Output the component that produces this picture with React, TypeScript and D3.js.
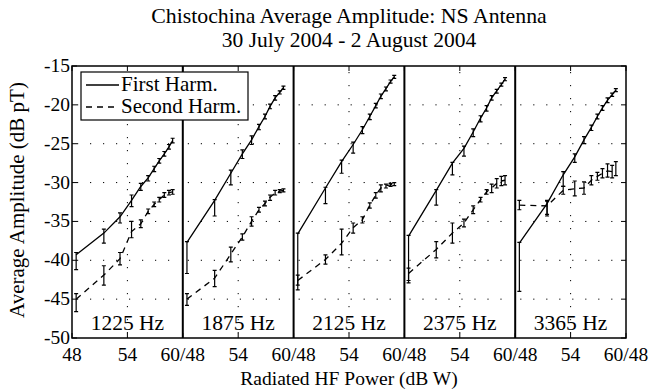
import React from "react";
import * as d3 from "d3";

// radiated HF power steps (dB W), shared by all panels
const POWER = [48.45, 51.45, 53.2, 54.45, 55.45, 56.25, 56.9, 57.45, 58.0, 58.5, 58.9];

// each point: [mean, error below, error above] in dB pT
const H1_1225 = [[-39.3, 1.9, 0.3], [-36.5, 1.3, 0.5], [-34.4, 0.8, 0.5], [-32.3, 0.8, 0.7], [-30.5, 0.5, 0.4], [-29.4, 0.4, 0.3], [-28.2, 0.4, 0.3], [-27.2, 0.3, 0.3], [-26.3, 0.3, 0.3], [-25.4, 0.3, 0.3], [-24.6, 0.3, 0.3]];
const H2_1225 = [[-45.0, 1.6, 0.7], [-41.9, 1.3, 1.2], [-39.8, 0.8, 0.8], [-36.3, 0.8, 1.3], [-35.3, 0.5, 0.5], [-33.7, 0.3, 0.3], [-32.8, 0.3, 0.3], [-32.2, 0.3, 0.3], [-31.6, 0.3, 0.3], [-31.3, 0.3, 0.3], [-31.2, 0.3, 0.3]];
const H1_1875 = [[-37.7, 4.0, 0.1], [-32.3, 2.0, 0.1], [-28.8, 1.5, 0.4], [-26.3, 0.6, 0.5], [-24.5, 0.6, 0.5], [-22.8, 0.4, 0.3], [-21.5, 0.3, 0.3], [-20.2, 0.3, 0.3], [-19.1, 0.3, 0.3], [-18.4, 0.2, 0.2], [-17.8, 0.2, 0.2]];
const H2_1875 = [[-45.0, 0.8, 0.7], [-42.3, 1.1, 1.0], [-39.2, 1.0, 0.9], [-37.0, 0.4, 0.4], [-35.0, 0.6, 0.6], [-33.5, 0.3, 0.3], [-32.7, 0.3, 0.3], [-31.9, 0.4, 0.3], [-31.3, 0.3, 0.3], [-31.1, 0.2, 0.2], [-31.0, 0.2, 0.2]];
const H1_2125 = [[-36.6, 6.6, 0.1], [-30.7, 2.0, 0.1], [-27.3, 1.5, 0.2], [-25.1, 1.1, 0.3], [-23.2, 0.5, 0.4], [-21.5, 0.4, 0.3], [-20.1, 0.3, 0.3], [-18.9, 0.3, 0.3], [-17.9, 0.3, 0.2], [-17.0, 0.2, 0.2], [-16.4, 0.2, 0.2]];
const H2_2125 = [[-42.6, 1.2, 0.7], [-39.9, 0.6, 0.6], [-37.8, 1.5, 1.8], [-35.8, 0.7, 0.6], [-34.8, 0.4, 0.4], [-32.9, 0.4, 0.3], [-31.6, 0.4, 0.3], [-30.7, 0.5, 0.4], [-30.4, 0.3, 0.2], [-30.3, 0.2, 0.2], [-30.2, 0.2, 0.2]];
const H1_2375 = [[-36.9, 6.0, 0.1], [-31.0, 1.9, 0.1], [-27.5, 1.5, 0.1], [-25.6, 1.0, 0.3], [-23.5, 0.6, 0.4], [-21.7, 0.5, 0.3], [-20.4, 0.4, 0.3], [-19.1, 0.3, 0.3], [-18.2, 0.3, 0.2], [-17.4, 0.2, 0.2], [-16.7, 0.2, 0.2]];
const H2_2375 = [[-41.7, 0.9, 0.7], [-38.6, 1.1, 1.0], [-36.5, 1.3, 1.3], [-35.2, 0.5, 0.5], [-33.5, 0.5, 0.5], [-32.2, 0.3, 0.3], [-31.2, 0.3, 0.3], [-30.7, 0.6, 0.5], [-30.1, 0.6, 0.6], [-29.8, 0.6, 0.6], [-29.7, 0.6, 0.6]];
const H1_3365 = [[-37.8, 6.2, 0.1], [-32.7, 1.6, 0.4], [-29.0, 1.5, 0.4], [-26.7, 0.7, 0.4], [-24.5, 0.5, 0.4], [-22.9, 0.4, 0.3], [-21.5, 0.3, 0.3], [-20.4, 0.3, 0.3], [-19.4, 0.3, 0.3], [-18.7, 0.2, 0.2], [-18.1, 0.2, 0.2]];
const H2_3365 = [[-32.9, 0.6, 0.6], [-33.0, 1.1, 0.6], [-31.0, 0.5, 0.5], [-30.8, 0.9, 1.0], [-30.7, 0.8, 0.8], [-29.7, 0.6, 0.6], [-29.2, 0.5, 0.5], [-28.8, 0.6, 0.6], [-28.5, 0.8, 0.9], [-28.6, 0.8, 0.8], [-28.4, 0.7, 1.1]];

const FREQS = ["1225 Hz", "1875 Hz", "2125 Hz", "2375 Hz", "3365 Hz"];
const FIRST = [H1_1225, H1_1875, H1_2125, H1_2375, H1_3365];
const SECOND = [H2_1225, H2_1875, H2_2125, H2_2375, H2_3365];
const Y_TICKS = [-15, -20, -25, -30, -35, -40, -45, -50];
const X_TICK_LABELS = ["48", "54", "60/48", "54", "60/48", "54", "60/48", "54", "60/48", "54", "60/48"];

const W = 661;
const H = 390;
const left = 72;
const right = 626;
const top = 66;
const bottom = 338;
const serif = { fontFamily: '"Liberation Serif"' };

export default function App() {
  const n = FREQS.length;
  const pw = (right - left) / n;
  const y = d3.scaleLinear().domain([-50, -15]).range([bottom, top]);
  // one continuous x axis: 48..108, each panel covers 12 dB
  const xAll = d3.scaleLinear().domain([48, 48 + 12 * n]).range([left, right]);
  const tickVals = d3.range(48, 48 + 12 * n + 1, 6);

  const line = (xs: d3.ScaleLinear<number, number>) =>
    d3
      .line<number[]>()
      .x((d, i) => xs(POWER[i]))
      .y((d) => y(d[0]));

  const errBars = (xs: d3.ScaleLinear<number, number>, data: number[][], key: string) =>
    data.map((d, i) => {
      const cx = xs(POWER[i]);
      const y0 = y(d[0] - d[1]);
      const y1 = y(d[0] + d[2]);
      return (
        <path
          key={key + i}
          d={`M${cx},${y0}V${y1}M${cx - 2},${y0}H${cx + 2}M${cx - 2},${y1}H${cx + 2}`}
          stroke="#000"
          strokeWidth={1.2}
          fill="none"
        />
      );
    });

  return (
    <svg width={W} height={H} style={{ position: "absolute", left: 0, top: 0, background: "#fff" }}>
      <rect width={W} height={H} fill="#fff" />
      <text x={(left + right) / 2} y={23} textAnchor="middle" fontSize={21.8} style={serif}>
        Chistochina Average Amplitude: NS Antenna
      </text>
      <text x={(left + right) / 2} y={47} textAnchor="middle" fontSize={21.5} style={serif}>
        30 July 2004 - 2 August 2004
      </text>

      {/* dotted grid */}
      {FREQS.map((f, p) => {
        const x0 = left + p * pw;
        const xs = d3.scaleLinear().domain([48, 60]).range([x0, x0 + pw]);
        return (
          <g key={"g" + p} stroke="#000" strokeWidth={1} strokeDasharray="1.2 11.8" fill="none">
            {Y_TICKS.slice(1, -1).map((t) => (
              <line key={t} x1={x0 + 5} x2={x0 + pw - 3} y1={y(t)} y2={y(t)} />
            ))}
            <line x1={xs(54)} x2={xs(54)} y1={top + 6} y2={bottom} />
          </g>
        );
      })}

      {/* data */}
      {FREQS.map((f, p) => {
        const x0 = left + p * pw;
        const xs = d3.scaleLinear().domain([48, 60]).range([x0, x0 + pw]);
        return (
          <g key={"d" + p}>
            <path d={line(xs)(FIRST[p]) || ""} stroke="#000" strokeWidth={1.3} fill="none" />
            <path d={line(xs)(SECOND[p]) || ""} stroke="#000" strokeWidth={1.3} strokeDasharray="6 5" fill="none" />
            {errBars(xs, FIRST[p], "a")}
            {errBars(xs, SECOND[p], "b")}
            <text x={x0 + pw / 2} y={330} textAnchor="middle" fontSize={21.5} style={serif}>
              {f}
            </text>
          </g>
        );
      })}

      {/* frame, panel separators, ticks */}
      <rect x={left} y={top} width={right - left} height={bottom - top} fill="none" stroke="#000" strokeWidth={1.5} />
      {FREQS.slice(1).map((f, p) => (
        <line key={"s" + p} x1={left + (p + 1) * pw} x2={left + (p + 1) * pw} y1={top} y2={bottom} stroke="#000" strokeWidth={2} />
      ))}
      {Y_TICKS.map((t) => (
        <g key={"yt" + t}>
          <line x1={left} x2={left + 5} y1={y(t)} y2={y(t)} stroke="#000" />
          <line x1={right} x2={right - 5} y1={y(t)} y2={y(t)} stroke="#000" />
          <text x={left - 2} y={y(t) + 6} textAnchor="end" fontSize={19.5} style={serif}>
            {t}
          </text>
        </g>
      ))}
      {tickVals.map((t, i) => (
        <g key={"xt" + i}>
          <line x1={xAll(t)} x2={xAll(t)} y1={bottom} y2={bottom - 5} stroke="#000" />
          <line x1={xAll(t)} x2={xAll(t)} y1={top} y2={top + 5} stroke="#000" />
          <text x={xAll(t)} y={361} textAnchor="middle" fontSize={19.5} style={serif}>
            {X_TICK_LABELS[i]}
          </text>
        </g>
      ))}

      <text x={(left + right) / 2} y={385} textAnchor="middle" fontSize={19.5} style={serif}>
        Radiated HF Power (dB W)
      </text>
      <text transform={`translate(24,${(top + bottom) / 2 - 2}) rotate(-90)`} textAnchor="middle" fontSize={21} style={serif}>
        Average Amplitude (dB pT)
      </text>

      {/* legend */}
      <g>
        <rect x={81} y={72} width={167} height={48} fill="#fff" stroke="#000" strokeWidth={1.2} />
        <line x1={86} x2={119} y1={85} y2={85} stroke="#000" strokeWidth={1.3} />
        <line x1={86} x2={119} y1={107} y2={107} stroke="#000" strokeWidth={1.3} strokeDasharray="6 5" />
        <text x={121} y={91} fontSize={21} style={serif}>First Harm.</text>
        <text x={121} y={113} fontSize={21} style={serif}>Second Harm.</text>
      </g>
    </svg>
  );
}
